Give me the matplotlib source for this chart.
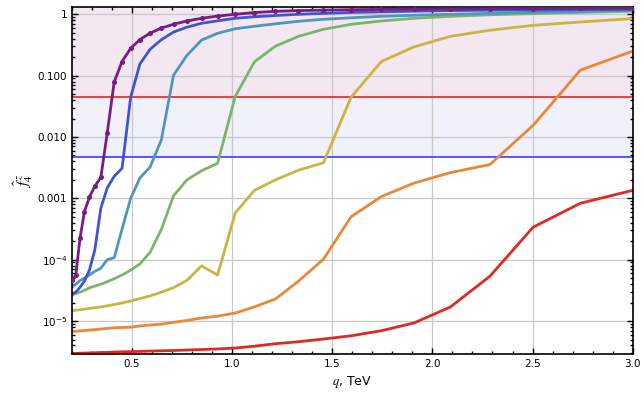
import matplotlib
matplotlib.use("Agg")
import matplotlib.pyplot as plt
from matplotlib.ticker import FixedLocator, FixedFormatter, LogLocator, NullFormatter, MultipleLocator

plt.rcParams['font.family'] = ['DejaVu Sans']
plt.rcParams['mathtext.fontset'] = 'stix'

# momentum grid, TeV
Q = [0.200, 0.219, 0.240, 0.262, 0.287, 0.314, 0.344, 0.376, 0.411, 0.450,
     0.493, 0.539, 0.590, 0.646, 0.707, 0.774, 0.847, 0.927, 1.015, 1.111,
     1.216, 1.331, 1.456, 1.594, 1.745, 1.909, 2.090, 2.287, 2.503, 2.739, 3.000]

purple = [4.68e-5, 5.62e-5, 2.24e-4, 6.03e-4, 1.05e-3, 1.58e-3, 2.19e-3, 1.17e-2, 7.94e-2, 0.170,
          0.279, 0.387, 0.494, 0.596, 0.687, 0.778, 0.861, 0.935, 1.000, 1.067,
          1.119, 1.148, 1.169, 1.189, 1.202, 1.216, 1.225, 1.233, 1.242, 1.247, 1.253]
blue = [2.75e-5, 2.95e-5, 3.55e-5, 4.47e-5, 6.76e-5, 1.45e-4, 6.92e-4, 1.48e-3, 2.29e-3, 3.09e-3,
        4.47e-2, 0.155, 0.269, 0.385, 0.513, 0.617, 0.713, 0.783, 0.861, 0.912,
        0.955, 1.000, 1.035, 1.072, 1.096, 1.122, 1.148, 1.167, 1.180, 1.194, 1.202]
teal = [3.55e-5, 3.98e-5, 4.57e-5, 5.01e-5, 5.62e-5, 6.46e-5, 7.24e-5, 1.00e-4, 1.08e-4, 3.16e-4,
        1.00e-3, 2.14e-3, 3.24e-3, 8.91e-3, 0.102, 0.214, 0.380, 0.490, 0.581, 0.638,
        0.700, 0.769, 0.830, 0.877, 0.927, 0.964, 1.000, 1.037, 1.079, 1.122, 1.175]
green = [2.63e-5, 2.82e-5, 2.95e-5, 3.16e-5, 3.47e-5, 3.72e-5, 3.98e-5, 4.37e-5, 4.90e-5, 5.62e-5,
         6.76e-5, 8.51e-5, 1.32e-4, 3.10e-4, 1.10e-3, 2.00e-3, 2.82e-3, 3.72e-3, 4.57e-2, 0.168,
         0.302, 0.437, 0.570, 0.687, 0.778, 0.861, 0.927, 0.982, 1.026, 1.072, 1.119]
olive = [1.48e-5, 1.50e-5, 1.53e-5, 1.56e-5, 1.60e-5, 1.65e-5, 1.70e-5, 1.77e-5, 1.86e-5, 1.97e-5,
         2.12e-5, 2.32e-5, 2.57e-5, 2.95e-5, 3.50e-5, 4.60e-5, 7.94e-5, 5.62e-5, 5.75e-4, 1.35e-3,
         2.00e-3, 2.88e-3, 3.80e-3, 4.47e-2, 0.170, 0.295, 0.437, 0.550, 0.661, 0.750, 0.851]
orange = [6.76e-6, 6.81e-6, 6.92e-6, 7.00e-6, 7.13e-6, 7.24e-6, 7.41e-6, 7.59e-6, 7.76e-6, 7.85e-6,
          7.94e-6, 8.32e-6, 8.61e-6, 8.91e-6, 9.55e-6, 1.02e-5, 1.12e-5, 1.20e-5, 1.35e-5, 1.70e-5,
          2.29e-5, 4.47e-5, 1.02e-4, 5.01e-4, 1.07e-3, 1.78e-3, 2.63e-3, 3.55e-3, 1.55e-2, 0.123, 0.251]
red = [2.95e-6, 2.96e-6, 2.99e-6, 3.00e-6, 3.02e-6, 3.04e-6, 3.07e-6, 3.09e-6, 3.13e-6, 3.15e-6,
       3.17e-6, 3.20e-6, 3.24e-6, 3.27e-6, 3.31e-6, 3.37e-6, 3.43e-6, 3.51e-6, 3.63e-6, 3.89e-6,
       4.27e-6, 4.60e-6, 5.09e-6, 5.75e-6, 6.95e-6, 9.33e-6, 1.70e-5, 5.37e-5, 3.39e-4, 8.32e-4, 1.35e-3]

# bounds
RED_LIMIT = 0.045
BLUE_LIMIT = 0.0048

YTICKS = [1e-5, 1e-4, 1e-3, 1e-2, 1e-1, 1]
YTICK_LABELS = [r'$\mathregular{10^{-5}}$', r'$\mathregular{10^{-4}}$', '0.001', '0.010', '0.100', '1']
XTICKS = [0.5, 1.0, 1.5, 2.0, 2.5, 3.0]

series = [
    (red, "#dc2a24"),
    (orange, "#e8883a"),
    (olive, "#c8b544"),
    (green, "#7db46c"),
    (teal, "#4f97b8"),
    (blue, "#3f55d0"),
    (purple, "#781c81"),
]

fig = plt.figure(figsize=(6.44, 3.93), dpi=100)
ax = fig.add_axes([0.1118, 0.0992, 0.8706, 0.8822])

ax.axhspan(RED_LIMIT, 10, color="#f3e7f1", zorder=0.1, lw=0)
ax.axhspan(BLUE_LIMIT, RED_LIMIT, color="#f1f1fc", zorder=0.1, lw=0)
ax.axhline(RED_LIMIT, color="#ff1a1a", lw=1.2, zorder=1.5)
ax.axhline(BLUE_LIMIT, color="#3a3aff", lw=1.2, zorder=1.5)

for vals, col in series:
    if vals is purple:
        ax.plot(Q, vals, color=col, lw=2.0, marker='o', ms=2.6, zorder=3)
    else:
        ax.plot(Q, vals, color=col, lw=2.0, zorder=2)

ax.set_yscale('log')
ax.set_xlim(0.2, 3.0)
ax.set_ylim(2.9e-6, 1.3)

ax.yaxis.set_major_locator(FixedLocator(YTICKS))
ax.yaxis.set_major_formatter(FixedFormatter(YTICK_LABELS))
ax.yaxis.set_minor_locator(LogLocator(base=10, subs=range(2, 10)))
ax.yaxis.set_minor_formatter(NullFormatter())
ax.xaxis.set_major_locator(FixedLocator(XTICKS))
ax.xaxis.set_minor_locator(MultipleLocator(0.1))

ax.set_axisbelow(True)
ax.grid(True, which='major', color='#c8c8c8', lw=0.9)

ax.tick_params(which='both', direction='in', top=True, right=True, labelsize=7.5, width=1.0)
ax.tick_params(which='major', length=4)
ax.tick_params(which='minor', length=2)
for sp in ax.spines.values():
    sp.set_linewidth(1.2)

ax.set_xlabel(r'$q$, TeV', fontsize=9)
ax.set_ylabel(r'$\hat{f}_4^{\,z}$', fontsize=11, labelpad=2)

fig.savefig("out.png", dpi=100)
